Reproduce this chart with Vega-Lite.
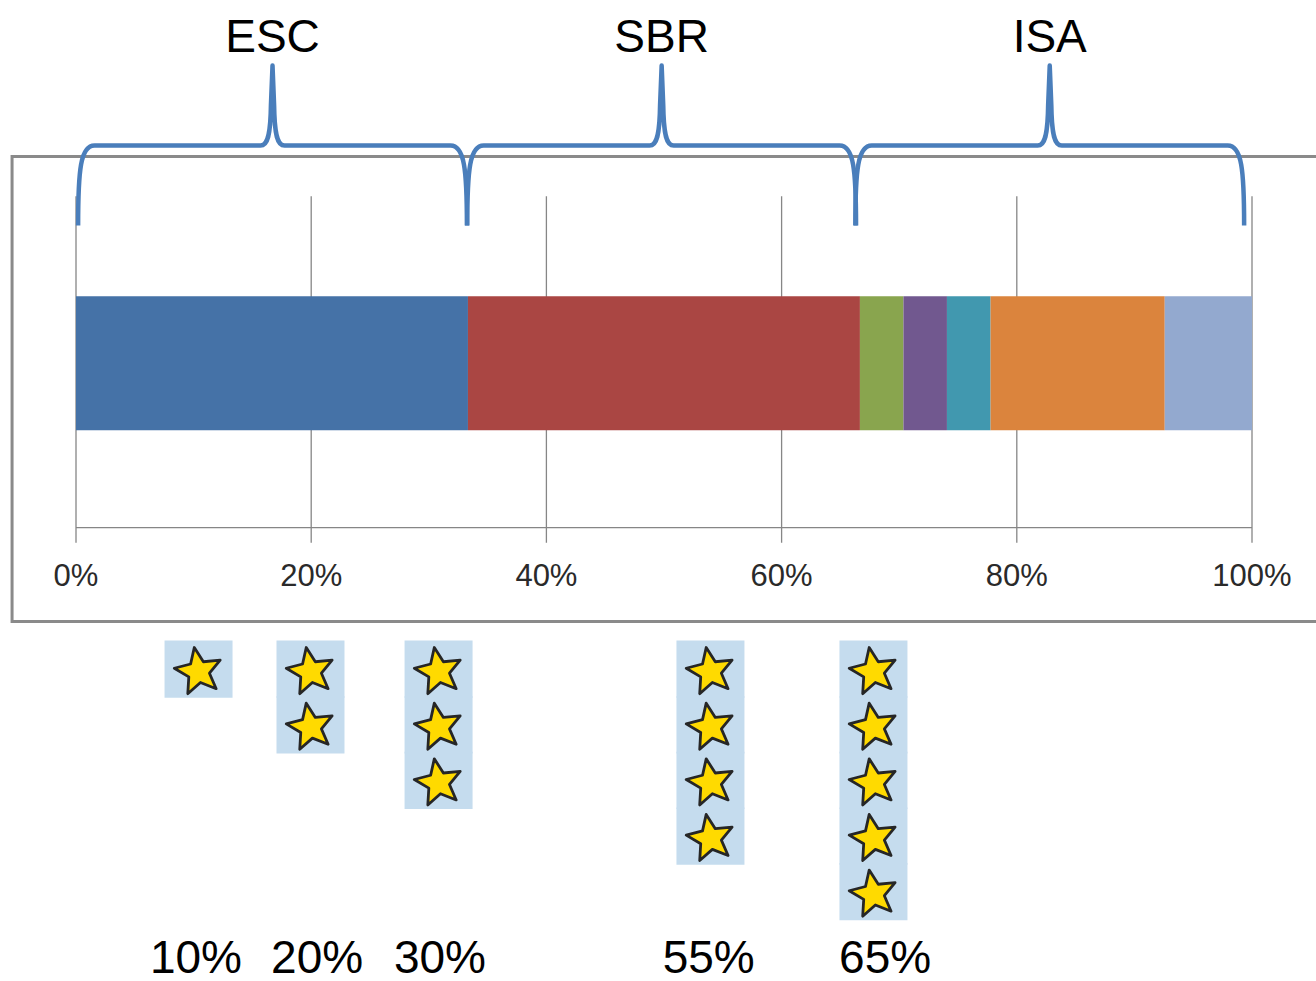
{
  "$schema": "https://vega.github.io/schema/vega-lite/v6.json",
  "width": 1316,
  "height": 981,
  "padding": 0,
  "autosize": {"type": "none"},
  "background": "white",
  "config": {"view": {"stroke": null}},
  "datasets": {
    "segments": [
      {"seg": "S1", "i": 1, "share": 33.33},
      {"seg": "S2", "i": 2, "share": 33.33},
      {"seg": "S3", "i": 3, "share": 3.7},
      {"seg": "S4", "i": 4, "share": 3.7},
      {"seg": "S5", "i": 5, "share": 3.71},
      {"seg": "S6", "i": 6, "share": 14.81},
      {"seg": "S7", "i": 7, "share": 7.42}
    ],
    "grid": [
      {"v": 0, "label": "0%"},
      {"v": 20, "label": "20%"},
      {"v": 40, "label": "40%"},
      {"v": 60, "label": "60%"},
      {"v": 80, "label": "80%"},
      {"v": 100, "label": "100%"}
    ],
    "braces": [
      {"group": "ESC", "center": 16.71},
      {"group": "SBR", "center": 49.8},
      {"group": "ISA", "center": 82.8}
    ],
    "columns": [
      {"label": "10%", "labelPos": 10.2, "stars": 1},
      {"label": "20%", "labelPos": 20.5, "stars": 2},
      {"label": "30%", "labelPos": 30.95, "stars": 3},
      {"label": "55%", "labelPos": 53.8, "stars": 4},
      {"label": "65%", "labelPos": 68.8, "stars": 5}
    ],
    "stars": [
      {"col": "10%", "pos": 10.42, "k": 1},
      {"col": "20%", "pos": 19.94, "k": 1},
      {"col": "20%", "pos": 19.94, "k": 2},
      {"col": "30%", "pos": 30.83, "k": 1},
      {"col": "30%", "pos": 30.83, "k": 2},
      {"col": "30%", "pos": 30.83, "k": 3},
      {"col": "55%", "pos": 53.95, "k": 1},
      {"col": "55%", "pos": 53.95, "k": 2},
      {"col": "55%", "pos": 53.95, "k": 3},
      {"col": "55%", "pos": 53.95, "k": 4},
      {"col": "65%", "pos": 67.81, "k": 1},
      {"col": "65%", "pos": 67.81, "k": 2},
      {"col": "65%", "pos": 67.81, "k": 3},
      {"col": "65%", "pos": 67.81, "k": 4},
      {"col": "65%", "pos": 67.81, "k": 5}
    ],
    "frame": [{"part": "chart area"}]
  },
  "layer": [
    {
      "data": {"name": "frame"},
      "mark": {
        "type": "point",
        "shape": "M-6.59,-2.325 L6.59,-2.325 L6.59,2.325 L-6.59,2.325 Z",
        "size": 40000, "filled": false, "opacity": 1,
        "stroke": "#8a8a8a", "strokeWidth": 3
      },
      "encoding": {
        "x": {"datum": 50.6, "type": "quantitative", "scale": {"domain": [-6.463, 105.442], "nice": false, "zero": false}, "axis": null},
        "y": {"datum": -4.036, "type": "quantitative", "scale": {"domain": [-10.94, 6.516], "reverse": true, "nice": false, "zero": false}, "axis": null}
      }
    },
    {
      "data": {"name": "grid"},
      "mark": {
        "type": "point", "shape": "M0,-1 L0,1",
        "size": 120062, "filled": false, "opacity": 1,
        "stroke": "#868686", "strokeWidth": 1.3
      },
      "encoding": {
        "x": {"field": "v", "type": "quantitative", "scale": {"domain": [-6.463, 105.442], "nice": false, "zero": false}, "axis": null},
        "y": {"datum": -4.387, "type": "quantitative", "scale": {"domain": [-10.94, 6.516], "reverse": true, "nice": false, "zero": false}, "axis": null}
      }
    },
    {
      "data": {"name": "grid"},
      "mark": {"type": "text", "font": "Liberation Sans", "fontSize": 31, "color": "#2a2a2a", "align": "center", "baseline": "alphabetic"},
      "encoding": {
        "x": {"field": "v", "type": "quantitative", "scale": {"domain": [-6.463, 105.442], "nice": false, "zero": false}, "axis": null},
        "y": {"datum": -0.495, "type": "quantitative", "scale": {"domain": [-10.94, 6.516], "reverse": true, "nice": false, "zero": false}, "axis": null},
        "text": {"field": "label"}
      }
    },
    {
      "data": {"name": "frame"},
      "mark": {
        "type": "point", "shape": "M-1,0 L1,0",
        "size": 1382976, "filled": false, "opacity": 1,
        "stroke": "#868686", "strokeWidth": 1.3
      },
      "encoding": {
        "x": {"datum": 50, "type": "quantitative", "scale": {"domain": [-6.463, 105.442], "nice": false, "zero": false}, "axis": null},
        "y": {"datum": -1.544, "type": "quantitative", "scale": {"domain": [-10.94, 6.516], "reverse": true, "nice": false, "zero": false}, "axis": null}
      }
    },
    {
      "data": {"name": "segments"},
      "transform": [
        {"stack": "share", "groupby": [], "sort": [{"field": "i", "order": "ascending"}], "as": ["x0", "x1"]}
      ],
      "mark": {"type": "bar", "orient": "horizontal", "size": 134, "strokeWidth": 0},
      "encoding": {
        "x": {"field": "x0", "type": "quantitative", "scale": {"domain": [-6.463, 105.442], "nice": false, "zero": false}, "axis": null},
        "x2": {"field": "x1"},
        "y": {"datum": -4.498, "type": "quantitative", "scale": {"domain": [-10.94, 6.516], "reverse": true, "nice": false, "zero": false}, "axis": null},
        "color": {
          "field": "seg", "type": "nominal", "legend": null,
          "scale": {
            "domain": ["S1", "S2", "S3", "S4", "S5", "S6", "S7"],
            "range": ["#4572A7", "#AA4643", "#89A54E", "#71588F", "#4198AF", "#DB843D", "#93A9CF"]
          }
        }
      }
    },
    {
      "data": {"name": "braces"},
      "mark": {
        "type": "point",
        "shape": "M-0.972,0.4 C-0.972,0.12 -0.96,0 -0.89,0 L-0.06,0 C-0.025,0 -0.01,-0.05 -0.008,-0.2 L0,-0.4 L0.008,-0.2 C0.01,-0.05 0.025,0 0.06,0 L0.89,0 C0.96,0 0.972,0.12 0.972,0.4",
        "size": 160000, "filled": false, "opacity": 1,
        "stroke": "#4A7EBB", "strokeWidth": 4.5, "strokeJoin": "round", "strokeCap": "butt"
      },
      "encoding": {
        "x": {"field": "center", "type": "quantitative", "scale": {"domain": [-6.463, 105.442], "nice": false, "zero": false}, "axis": null},
        "y": {"datum": -8.413, "type": "quantitative", "scale": {"domain": [-10.94, 6.516], "reverse": true, "nice": false, "zero": false}, "axis": null}
      }
    },
    {
      "data": {"name": "braces"},
      "mark": {"type": "text", "font": "Liberation Sans", "fontSize": 46, "color": "#000000", "align": "center", "baseline": "alphabetic"},
      "encoding": {
        "x": {"field": "center", "type": "quantitative", "scale": {"domain": [-6.463, 105.442], "nice": false, "zero": false}, "axis": null},
        "y": {"datum": -10.103, "type": "quantitative", "scale": {"domain": [-10.94, 6.516], "reverse": true, "nice": false, "zero": false}, "axis": null},
        "text": {"field": "group"}
      }
    },
    {
      "data": {"name": "stars"},
      "mark": {
        "type": "point",
        "shape": "M-1.21,-1.02 L1.21,-1.02 L1.21,1.02 L-1.21,1.02 Z",
        "size": 3158, "filled": true, "opacity": 1,
        "fill": "#C5DCEE", "strokeWidth": 0
      },
      "encoding": {
        "x": {"field": "pos", "type": "quantitative", "scale": {"domain": [-6.463, 105.442], "nice": false, "zero": false}, "axis": null},
        "y": {"field": "k", "type": "quantitative", "scale": {"domain": [-10.94, 6.516], "reverse": true, "nice": false, "zero": false}, "axis": null}
      }
    },
    {
      "data": {"name": "stars"},
      "mark": {
        "type": "point",
        "shape": "M0,-1 L0.2645,-0.364 L0.951,-0.309 L0.428,0.139 L0.588,0.809 L0,0.45 L-0.588,0.809 L-0.428,0.139 L-0.951,-0.309 L-0.2645,-0.364 Z",
        "size": 2400, "filled": true, "opacity": 1,
        "fill": "#FFDA00", "stroke": "#262626", "strokeWidth": 2.8, "strokeJoin": "round",
        "angle": -10, "yOffset": 2.5
      },
      "encoding": {
        "x": {"field": "pos", "type": "quantitative", "scale": {"domain": [-6.463, 105.442], "nice": false, "zero": false}, "axis": null},
        "y": {"field": "k", "type": "quantitative", "scale": {"domain": [-10.94, 6.516], "reverse": true, "nice": false, "zero": false}, "axis": null}
      }
    },
    {
      "data": {"name": "columns"},
      "mark": {"type": "text", "font": "Liberation Sans", "fontSize": 46, "color": "#000000", "align": "center", "baseline": "alphabetic"},
      "encoding": {
        "x": {"field": "labelPos", "type": "quantitative", "scale": {"domain": [-6.463, 105.442], "nice": false, "zero": false}, "axis": null},
        "y": {"datum": 6.463, "type": "quantitative", "scale": {"domain": [-10.94, 6.516], "reverse": true, "nice": false, "zero": false}, "axis": null},
        "text": {"field": "label"}
      }
    }
  ]
}
